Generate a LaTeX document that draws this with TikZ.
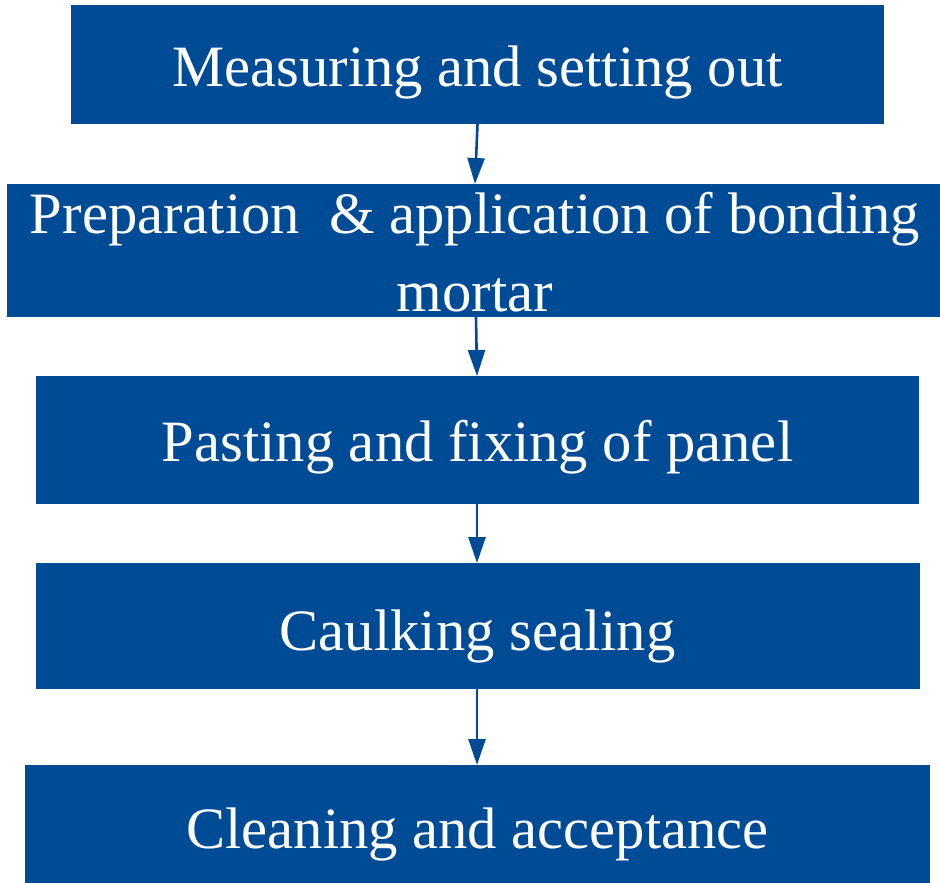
\documentclass[tikz,border=0pt]{standalone}
\usepackage{fontspec}
\setmainfont{Liberation Serif}
\usetikzlibrary{arrows.meta}
\definecolor{boxblue}{RGB}{0,75,150}
\tikzset{
  stepbox/.style={fill=boxblue, draw=none, inner sep=0pt, outer sep=0pt, rectangle},
  steptext/.style={text=white, anchor=base, inner sep=0pt, font=\fontsize{58.6}{70}\selectfont},
  flow/.style={draw=boxblue, line width=2.6pt, -{Triangle[length=26pt,width=17pt]}}
}
\begin{document}
\begin{tikzpicture}[x=1pt,y=-1pt]
\useasboundingbox (0,0) rectangle (940,883);
\fill[white] (0,0) rectangle (940,883);
\node[stepbox, minimum width=813pt, minimum height=119pt] (b1) at (477.5,64.5) {};
\node[stepbox, minimum width=933pt, minimum height=133pt] (b2) at (473.5,250.5) {};
\node[stepbox, minimum width=883pt, minimum height=128pt] (b3) at (477.5,440) {};
\node[stepbox, minimum width=884pt, minimum height=126pt] (b4) at (478,626) {};
\node[stepbox, minimum width=905pt, minimum height=118pt] (b5) at (477.5,824) {};
\node[steptext] (t1) at (477.5,86) {Measuring and setting out};
\node[steptext] (t2a) at (475,233.3) {Preparation\ \ \& application of bonding};
\node[steptext] (t2b) at (475,311.7) {mortar};
\node[steptext] (t3) at (477.5,461.7) {Pasting and fixing of panel};
\node[steptext] (t4) at (477.5,650.5) {Caulking sealing};
\node[steptext] (t5) at (477.5,848.2) {Cleaning and acceptance};
\draw[flow] (b1.south) -- ([xshift=1.5pt]b2.north);
\draw[flow] ([xshift=2.5pt]b2.south) -- ([xshift=-0.5pt]b3.north);
\draw[flow] ([xshift=-0.5pt]b3.south) -- ([xshift=-1pt]b4.north);
\draw[flow] ([xshift=-1pt]b4.south) -- ([xshift=-0.5pt]b5.north);
\end{tikzpicture}
\end{document}
